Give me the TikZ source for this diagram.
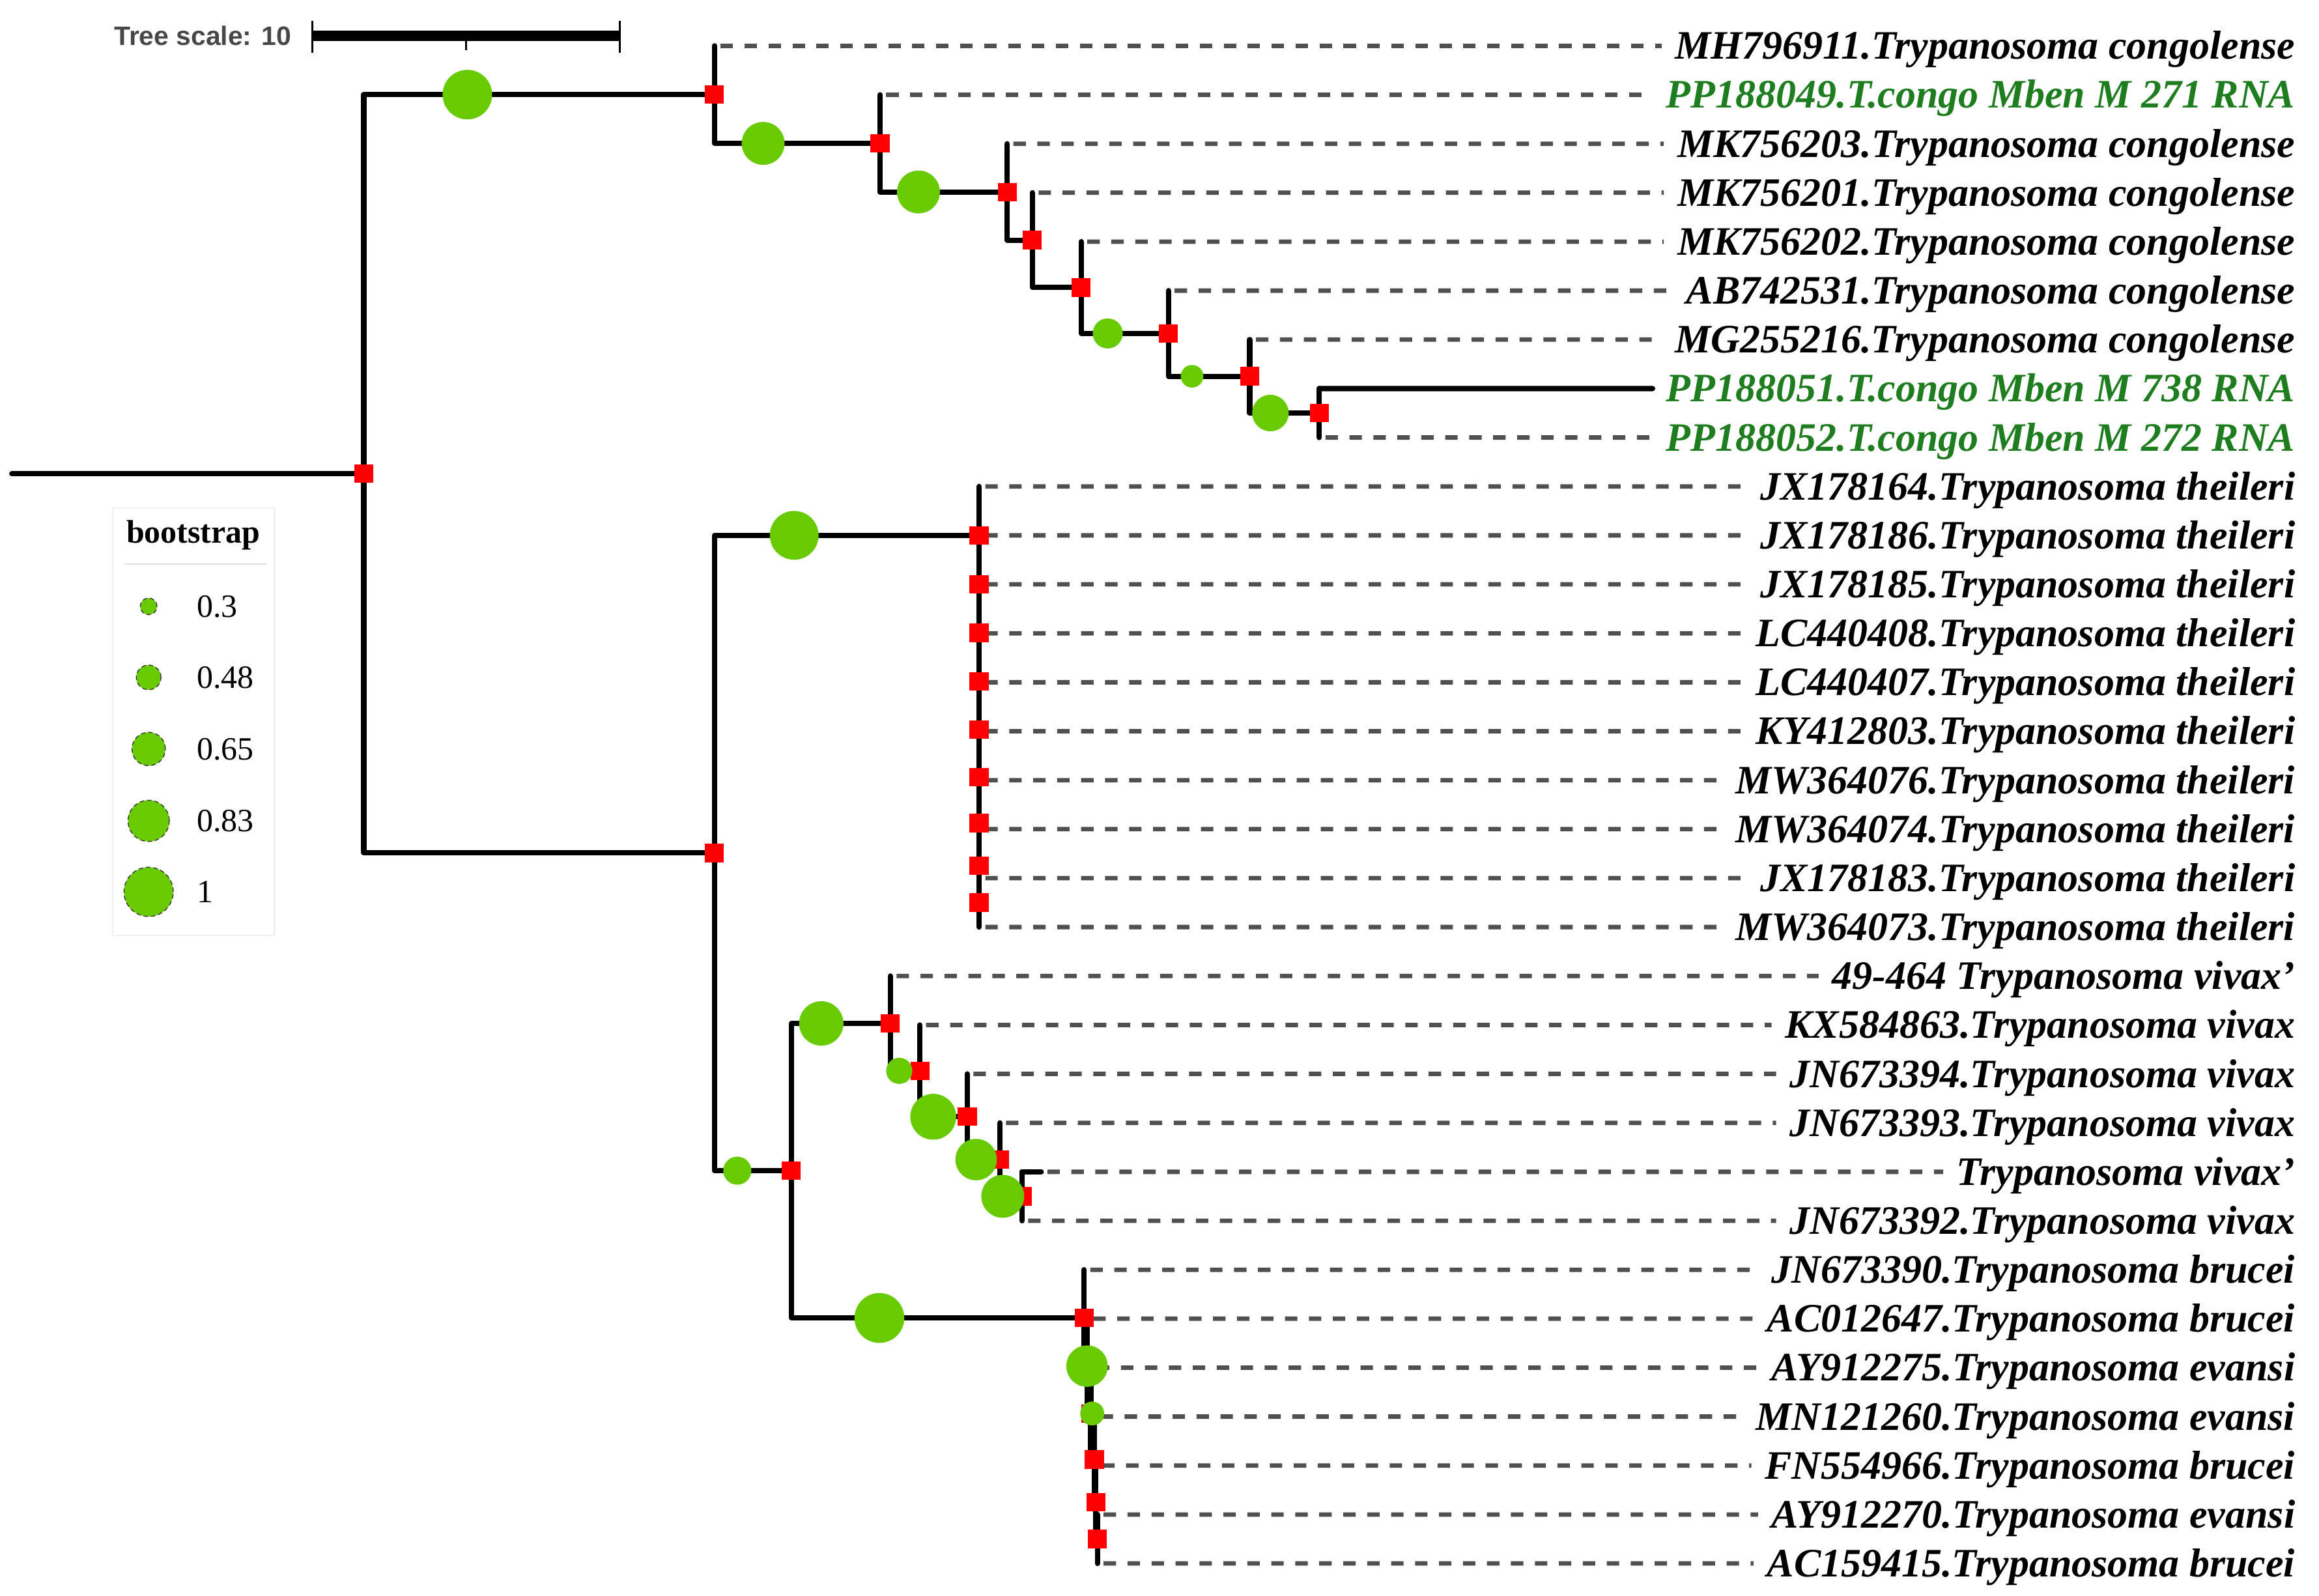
\documentclass[tikz,border=0pt]{standalone}
\usepackage{fontspec}
\setmainfont{Liberation Serif}
\newfontfamily\sansf{Liberation Sans}
\usetikzlibrary{calc}
\definecolor{bsgreen}{RGB}{104,202,0}
\definecolor{lblgreen}{RGB}{30,125,30}
\definecolor{dashgray}{RGB}{80,80,80}
\definecolor{sqred}{RGB}{255,0,0}
\tikzset{
  br/.style={line width=3.6pt, line cap=round, line join=round, black},
  dsh/.style={line width=3pt, dashgray, dash pattern=on 8.4pt off 7.8pt, dash phase=12pt},
  rsq/.style={rectangle, fill=sqred, minimum width=12.9pt, minimum height=12.5pt, inner sep=0pt, outer sep=0pt},
  bs/.style={circle, fill=bsgreen, inner sep=0pt, outer sep=0pt, minimum size=#1},
  lgc/.style={circle, fill=bsgreen, draw=black!80, densely dashed, line width=0.6pt, inner sep=0pt, minimum size=#1},
  lab/.style={anchor=east, font=\fontsize{27.3}{30}\selectfont\bfseries\itshape, inner xsep=9pt, inner ysep=0pt, text height=18pt, text depth=0pt},
  lgtxt/.style={anchor=base west, font=\fontsize{22}{24}\selectfont, inner sep=0pt},
}
\begin{document}
\begin{tikzpicture}[x=1pt,y=-1pt]
\useasboundingbox (0,0) rectangle (1568,1079);

% ---------- labels ----------
\foreach \i/\t/\c in {
 1/MH796911.Trypanosoma congolense/black,
 2/PP188049.T.congo Mben M 271 RNA/lblgreen,
 3/MK756203.Trypanosoma congolense/black,
 4/MK756201.Trypanosoma congolense/black,
 5/MK756202.Trypanosoma congolense/black,
 6/AB742531.Trypanosoma congolense/black,
 7/MG255216.Trypanosoma congolense/black,
 8/PP188051.T.congo Mben M 738 RNA/lblgreen,
 9/PP188052.T.congo Mben M 272 RNA/lblgreen,
 10/JX178164.Trypanosoma theileri/black,
 11/JX178186.Trypanosoma theileri/black,
 12/JX178185.Trypanosoma theileri/black,
 13/LC440408.Trypanosoma theileri/black,
 14/LC440407.Trypanosoma theileri/black,
 15/KY412803.Trypanosoma theileri/black,
 16/MW364076.Trypanosoma theileri/black,
 17/MW364074.Trypanosoma theileri/black,
 18/JX178183.Trypanosoma theileri/black,
 19/MW364073.Trypanosoma theileri/black,
 20/49-464 Trypanosoma vivax'/black,
 21/KX584863.Trypanosoma vivax/black,
 22/JN673394.Trypanosoma vivax/black,
 23/JN673393.Trypanosoma vivax/black,
 24/Trypanosoma vivax'/black,
 25/JN673392.Trypanosoma vivax/black,
 26/JN673390.Trypanosoma brucei/black,
 27/AC012647.Trypanosoma brucei/black,
 28/AY912275.Trypanosoma evansi/black,
 29/MN121260.Trypanosoma evansi/black,
 30/FN554966.Trypanosoma brucei/black,
 31/AY912270.Trypanosoma evansi/black,
 32/AC159415.Trypanosoma brucei/black}{
  \pgfmathsetmacro\yy{31+(\i-1)*33.1}
  \node[lab, text=\c] (l\i) at (1561,\yy) {\t};
}

% ---------- internal nodes ----------
\coordinate (R0) at (8,320.3);
\coordinate (R)  at (246,320.3);
\coordinate (N2) at (483,63.98);
\coordinate (N3) at (595,96.95);
\coordinate (N4) at (681,129.8);
\coordinate (N5) at (698,162.35);
\coordinate (N6) at (731,194.4);
\coordinate (N7) at (790,225.45);
\coordinate (N8) at (845,254.4);
\coordinate (N9) at (892,279.25);
\coordinate (LO) at (483,576.7);
\coordinate (T1) at (662,361.94);
\coordinate (T2) at (662,394.98);
\coordinate (T3) at (662,427.95);
\coordinate (T4) at (662,460.8);
\coordinate (T5) at (662,493.35);
\coordinate (T6) at (662,525.4);
\coordinate (T7) at (662,556.45);
\coordinate (T8) at (662,585.4);
\coordinate (T9) at (662,610.25);
\coordinate (VB) at (535,791.5);
\coordinate (V2) at (602,691.95);
\coordinate (V3) at (622,724.0);
\coordinate (V4) at (654,755.05);
\coordinate (V5) at (676,784.0);
\coordinate (V6) at (691,808.85);
\coordinate (B1) at (733,891.1);
\coordinate (B2) at (735,923.65);
\coordinate (B3) at (737.5,955.7);
\coordinate (B4) at (740,986.75);
\coordinate (B5) at (741,1015.7);
\coordinate (B6) at (742,1040.55);

% ---------- leaf starts ----------
\coordinate (s1) at (483,31);
\coordinate (s2) at (595,64.1);
\coordinate (s3) at (681,97.2);
\coordinate (s4) at (698,130.3);
\coordinate (s5) at (731,163.4);
\coordinate (s6) at (790,196.5);
\coordinate (s7) at (845,229.6);
\coordinate (s8) at (892,262.7);
\coordinate (s9) at (892,295.8);
\coordinate (s10) at (662,328.9);
\coordinate (s11) at (662,362);
\coordinate (s12) at (662,395.1);
\coordinate (s13) at (662,428.2);
\coordinate (s14) at (662,461.3);
\coordinate (s15) at (662,494.4);
\coordinate (s16) at (662,527.5);
\coordinate (s17) at (662,560.6);
\coordinate (s18) at (662,593.7);
\coordinate (s19) at (662,626.8);
\coordinate (s20) at (602,659.9);
\coordinate (s21) at (622,693);
\coordinate (s22) at (654,726.1);
\coordinate (s23) at (676,759.2);
\coordinate (s24) at (691,792.3);
\coordinate (e24) at (704,792.3);
\coordinate (s25) at (691,825.4);
\coordinate (s26) at (733,858.5);
\coordinate (s27) at (735,891.6);
\coordinate (s28) at (737.5,924.7);
\coordinate (s29) at (740,957.8);
\coordinate (s30) at (741,990.9);
\coordinate (s31) at (742,1024);
\coordinate (s32) at (742,1057.1);

% ---------- dashed leaf lines ----------
\foreach \i in {1,...,7,9,10,11,12,13,14,15,16,17,18,19,20,21,22,23,25,26,27,28,29,30,31,32}{
  \draw[dsh] (s\i) -- (l\i.west);
}
\draw[dsh] (e24) -- (l24.west);

% ---------- branches ----------
\draw[br] (R0) -- (R);
\draw[br] (N2) -| (R) |- (LO);
\draw[br] (s1) -| (N2) |- (N3);
\draw[br] (s2) -| (N3) |- (N4);
\draw[br] (s3) -| (N4) |- (N5);
\draw[br] (s4) -| (N5) |- (N6);
\draw[br] (s5) -| (N6) |- (N7);
\draw[br] (s6) -| (N7) |- (N8);
\draw[br] (s7) -| (N8) |- (N9);
\draw[br] (s8) -| (N9) |- (s9);
\draw[br] (s8) -- (l8.west);
\draw[br] (T1) -| (LO) |- (VB);
\draw[br] (s10) -| (T1) |- (T2);
\draw[br] (s11) -| (T2) |- (T3);
\draw[br] (s12) -| (T3) |- (T4);
\draw[br] (s13) -| (T4) |- (T5);
\draw[br] (s14) -| (T5) |- (T6);
\draw[br] (s15) -| (T6) |- (T7);
\draw[br] (s16) -| (T7) |- (T8);
\draw[br] (s17) -| (T8) |- (T9);
\draw[br] (s18) -| (T9) |- (s19);
\draw[br] (V2) -| (VB) |- (B1);
\draw[br] (s20) -| (V2) |- (V3);
\draw[br] (s21) -| (V3) |- (V4);
\draw[br] (s22) -| (V4) |- (V5);
\draw[br] (s23) -| (V5) |- (V6);
\draw[br] (s24) -| (V6) |- (s25);
\draw[br] (s24) -- (e24);
\draw[br] (s26) -| (B1) |- (B2);
\draw[br] (s27) -| (B2) |- (B3);
\draw[br] (s28) -| (B3) |- (B4);
\draw[br] (s29) -| (B4) |- (B5);
\draw[br] (s30) -| (B5) |- (B6);
\draw[br] (s31) -| (B6) |- (s32);

% ---------- red node squares ----------
\foreach \n in {R,N2,N3,N4,N5,N6,N7,N8,N9,LO,T1,T2,T3,T4,T5,T6,T7,T8,T9,VB,V2,V3,V4,V5,V6,B1,B2,B3,B4,B5,B6}{
  \node[rsq] (q\n) at (\n) {};
}

% ---------- bootstrap circles ----------
\node[bs=33.5pt] (cN2) at (316,0 |- N2) {};
\node[bs=29pt]   (cN3) at (516,0 |- N3) {};
\node[bs=29pt]   (cN4) at (621,0 |- N4) {};
\node[bs=20.3pt] (cN7) at (749,0 |- N7) {};
\node[bs=15.3pt] (cN8) at (806,0 |- N8) {};
\node[bs=24.7pt] (cN9) at (859,0 |- N9) {};
\node[bs=33pt]   (cT1) at (537,0 |- T1) {};
\node[bs=19pt]   (cVB) at (498.5,0 |- VB) {};
\node[bs=30pt]   (cV2) at (555.3,0 |- V2) {};
\node[bs=17.7pt] (cV3) at (608,0 |- V3) {};
\node[bs=31pt]   (cV4) at (631,0 |- V4) {};
\node[bs=28pt]   (cV5) at (660,0 |- V5) {};
\node[bs=29pt]   (cV6) at (678,0 |- V6) {};
\node[bs=33.7pt] (cB1) at (594.6,0 |- B1) {};
\node[bs=28pt]   (cB2) at (735,0 |- B2) {};
\node[bs=16.2pt] (cB3) at (738.5,0 |- B3) {};

% ---------- tree scale ----------
\node[anchor=west, inner sep=0pt, text=black!72, font=\sansf\bfseries\fontsize{18}{20}\selectfont] (tsl) at (77,24.2) {Tree scale: 10};
\coordinate (sbA) at (211.3,24.2);
\coordinate (sbB) at (418.9,24.2);
\coordinate (sbM) at (315,24.2);
\draw[line width=7.3pt] (sbA) -- (sbB);
\draw[line width=1.3pt] ($(sbA)+(0,-10.2)$) -- ($(sbA)+(0,11.5)$);
\draw[line width=1.3pt] ($(sbB)+(0,-10.2)$) -- ($(sbB)+(0,11.5)$);
\draw[line width=1.3pt] (sbM) -- ($(sbM)+(0,9.6)$);

% ---------- legend ----------
\draw[gray!12, line width=1pt] (76.3,343.6) rectangle (185.7,632.5);
\draw[gray!25, line width=1pt] (84,381.3) -- (180,381.3);
\node[inner sep=0pt, font=\fontsize{22}{24}\selectfont\bfseries] (lgt) at (130.7,362) {bootstrap};
\node[lgc=11.3pt] (g1) at (100.5,410) {};
\node[lgc=16.7pt] (g2) at (100.5,458) {};
\node[lgc=22.6pt] (g3) at (100.5,506.4) {};
\node[lgc=27.9pt] (g4) at (100.5,555) {};
\node[lgc=33.3pt] (g5) at (100.5,603) {};
\node[lgtxt] (gt1) at (133,417.4) {0.3};
\node[lgtxt] (gt2) at (133,465.4) {0.48};
\node[lgtxt] (gt3) at (133,513.8) {0.65};
\node[lgtxt] (gt4) at (133,562.4) {0.83};
\node[lgtxt] (gt5) at (133,610.4) {1};
\end{tikzpicture}
\end{document}
